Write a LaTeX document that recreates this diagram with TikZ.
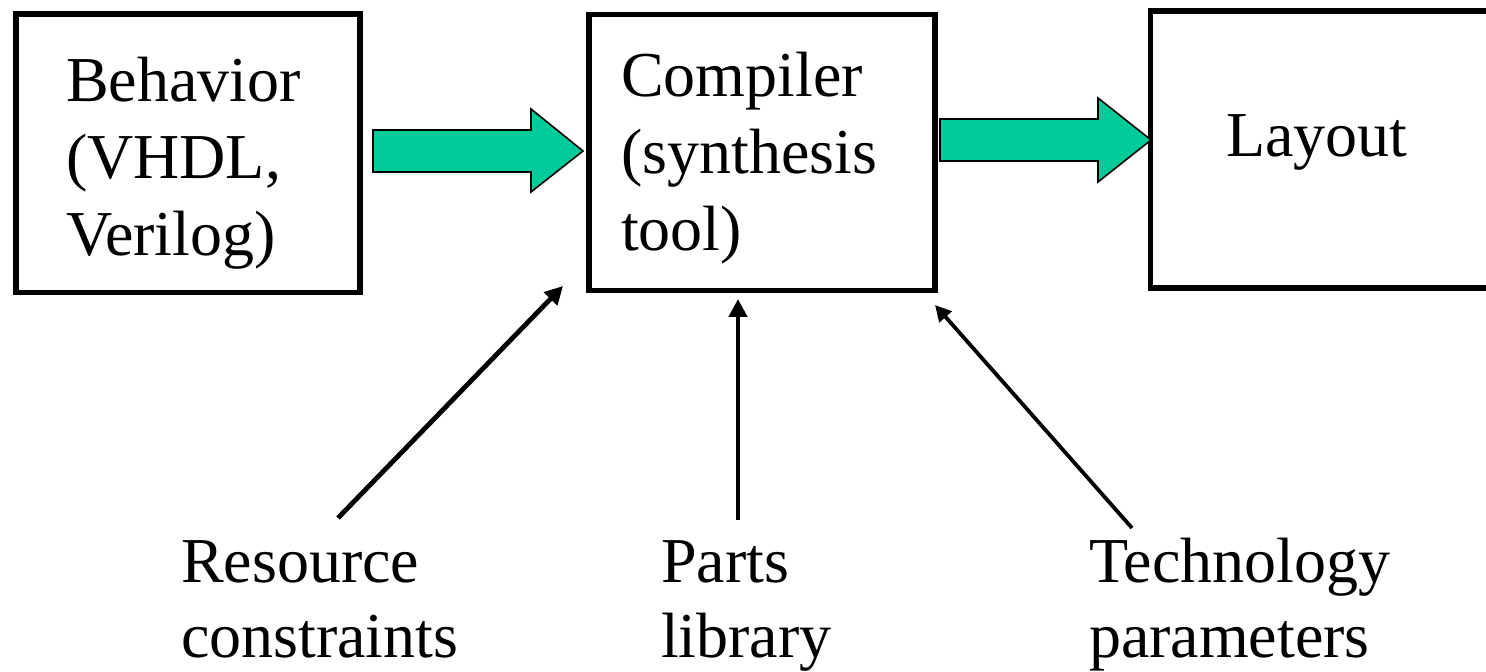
\documentclass[tikz,border=0pt]{standalone}
\usepackage{fontspec}
\setmainfont{Liberation Serif}
\usetikzlibrary{arrows.meta}
\definecolor{flowgreen}{RGB}{0,204,153}
\begin{document}
\begin{tikzpicture}[x=0.5pt,y=-0.5pt,
  boxnode/.style={draw=black,line width=2.8pt,inner sep=0pt,outer sep=0pt},
  txt/.style={anchor=base west,align=left,inner sep=0pt,outer sep=0pt,
    font=\fontsize{32}{38.5}\selectfont},
  lowtxt/.style={txt,font=\fontsize{32}{37.5}\selectfont},
  blockarrow/.style={fill=flowgreen,draw=black,line width=0.8pt,line join=miter},
  feed/.style={draw=black,-{Triangle[length=9pt,width=9pt]}}]
\clip (0,0) rectangle (1486,672);
\fill[white] (0,0) rectangle (1486,672);
% boxes
\node[boxnode,minimum width=172pt,minimum height=139.25pt,anchor=north west] (beh) at (16,14) {};
\node[boxnode,minimum width=173pt,minimum height=138pt,anchor=north west] (comp) at (589,14.5) {};
\node[boxnode,minimum width=200pt,minimum height=138.5pt,anchor=north west] (lay) at (1150.5,11) {};
% texts (anchored at the baseline of the last line)
\node[txt] (behtxt) at (66,256) {Behavior\\(VHDL,\\Verilog)};
\node[txt] (comptxt) at (621,251) {Compiler\\(synthesis\\tool)};
\node[txt] (laytxt) at (1226,157) {Layout};
\node[lowtxt] (restxt) at (181,657) {Resource\\constraints};
\node[lowtxt] (partstxt) at (661,657) {Parts\\library};
\node[lowtxt] (techtxt) at (1089,657) {Technology\\parameters};
% green block arrows
\draw[blockarrow] (373,130) -- (531,130) -- (531,109) -- (583,151) -- (531,192) -- (531,172) -- (373,172) -- cycle;
\draw[blockarrow] (940,119) -- (1098,119) -- (1098,98) -- (1151,140) -- (1098,182) -- (1098,161) -- (940,161) -- cycle;
% feeding arrows
\coordinate (resA) at (338,518);
\coordinate (resB) at (563,286);
\coordinate (partA) at (738,520);
\coordinate (partB) at (738,299);
\coordinate (techA) at (1132,528);
\coordinate (techB) at (935,305);
\draw[feed,line width=2.4pt] (resA) -- (resB);
\draw[feed,line width=2.4pt] (partA) -- (partB);
\draw[feed,line width=1.9pt,-{Triangle[length=8pt,width=8pt]}] (techA) -- (techB);
\end{tikzpicture}
\end{document}
